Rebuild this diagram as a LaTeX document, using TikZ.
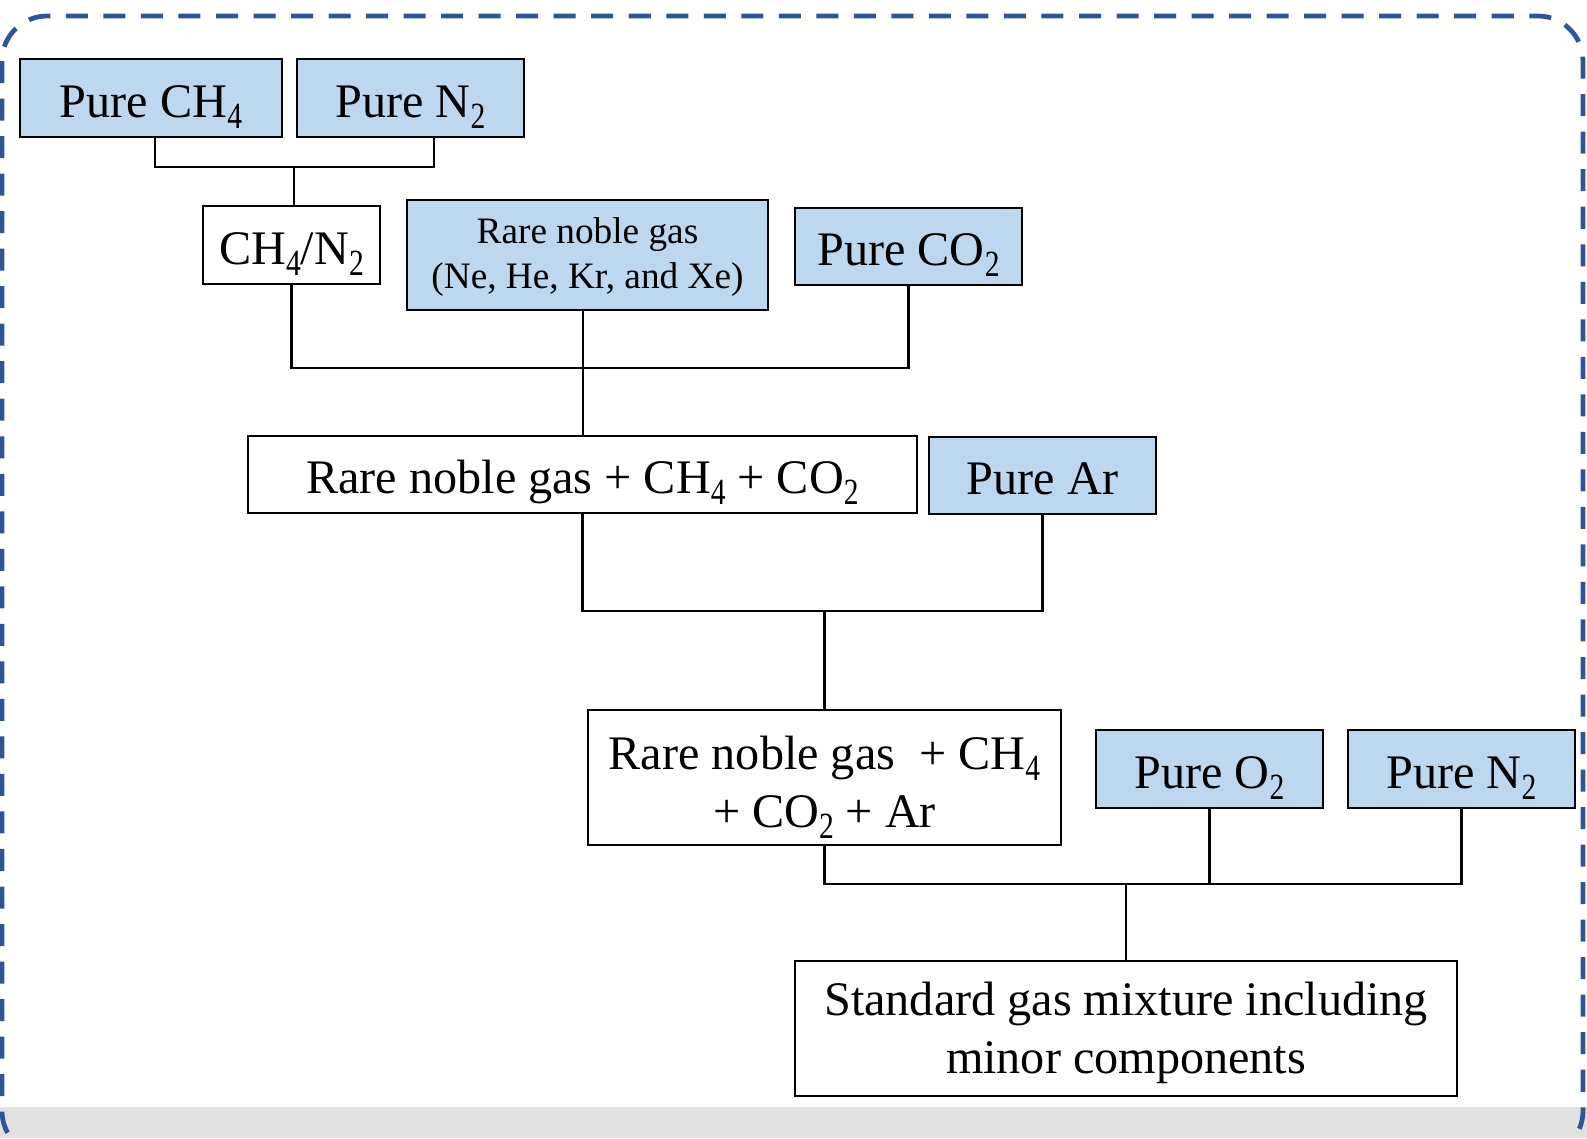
\documentclass[tikz,border=0pt]{standalone}
\usepackage{fontspec}
\setmainfont{Liberation Serif}
\usepackage{xcolor}
\usepackage{tikz}
\definecolor{boxblue}{RGB}{189,215,238}
\definecolor{frameblue}{RGB}{47,85,151}
\definecolor{bandgray}{RGB}{225,225,225}
\newcommand{\chemsub}[1]{\raisebox{-0.11cm}[0pt][0pt]{\fontsize{10.5}{12}\selectfont\scalebox{0.8}[1]{#1}}}
\tikzset{
  gasbox/.style={draw, line width=0.6pt, fill=boxblue, inner sep=0pt, align=center,
    font=\fontsize{13.7}{16.5}\selectfont},
  mixbox/.style={gasbox, fill=white},
  oneline/.style={text height=0.38cm, text depth=0pt},
  link/.style={line width=0.8pt},
}

\begin{document}
\begin{tikzpicture}[x=0.01cm,y=-0.01cm]
    \useasboundingbox (0,0) rectangle (1587,1138);
    \fill[bandgray] (0,1107) rectangle (1587,1138);
    \begin{scope}
      \clip (0,0) rectangle (1587,1138);
      \draw[frameblue, line width=1.35pt, dash pattern=on 0.22cm off 0.155cm,
        rounded corners=0.45cm] (2,16) rectangle (1583,1156);
    \end{scope}
    \node[gasbox, oneline, minimum width=2.62cm, minimum height=0.78cm] (ch4a) at (151,98) {Pure CH\chemsub{4}};
    \node[gasbox, oneline, minimum width=2.27cm, minimum height=0.78cm] (n2a) at (410.5,98) {Pure N\chemsub{2}};
    \node[mixbox, oneline, minimum width=1.77cm, minimum height=0.78cm] (mixa) at (291.5,245) {CH\chemsub{4}/N\chemsub{2}};
    \node[gasbox, minimum width=3.61cm, minimum height=1.10cm, font=\fontsize{10.6}{13}\selectfont] (rare) at (587.5,255)
      {\rule{0pt}{0.3cm}Rare noble gas\\(Ne, He, Kr, and Xe)};
    \node[gasbox, oneline, minimum width=2.27cm, minimum height=0.77cm] (co2) at (908.5,246.5) {Pure CO\chemsub{2}};
    \node[mixbox, oneline, minimum width=6.69cm, minimum height=0.77cm] (mixb) at (582.5,474.5)
      {Rare noble gas + CH\chemsub{4} + CO\chemsub{2}};
    \node[gasbox, oneline, minimum width=2.27cm, minimum height=0.77cm] (ar) at (1042.5,475.5) {Pure Ar};
    \node[mixbox, minimum width=4.73cm, minimum height=1.35cm] (mixc) at (824.5,777.5)
      {\rule{0pt}{0.42cm}Rare noble gas \ + CH\chemsub{4}\\+ CO\chemsub{2} + Ar};
    \node[gasbox, oneline, minimum width=2.27cm, minimum height=0.78cm] (o2) at (1209.5,769) {Pure O\chemsub{2}};
    \node[gasbox, oneline, minimum width=2.27cm, minimum height=0.78cm] (n2b) at (1461.5,769) {Pure N\chemsub{2}};
    \node[mixbox, minimum width=6.62cm, minimum height=1.35cm] (std) at (1126,1028.5)
      {\rule{0pt}{0.42cm}Standard gas mixture including\\minor components};
    \coordinate (j1) at (294,167);
    \coordinate (j2) at (583,368);
    \coordinate (j3) at (824.5,611);
    \coordinate (j4) at (1126,884);
    \draw[link] ([xshift=0.04cm]ch4a.south) |- (j1) -| ([xshift=0.235cm]n2a.south);
    \draw[link] (j1) -- (j1 |- mixa.north);
    \draw[link] (mixa.south) |- (j2) -| (co2.south);
    \draw[link] (j2 |- rare.south) -- (j2 |- mixb.north);
    \draw[link] (mixb.south) |- (j3) -| (ar.south);
    \draw[link] (j3) -- (mixc.north);
    \draw[link] (mixc.south) |- (j4) -| (n2b.south);
    \draw[link] (o2.south) -- (o2.south |- j4);
    \draw[link] (j4) -- (std.north);
  \end{tikzpicture}
\end{document}
